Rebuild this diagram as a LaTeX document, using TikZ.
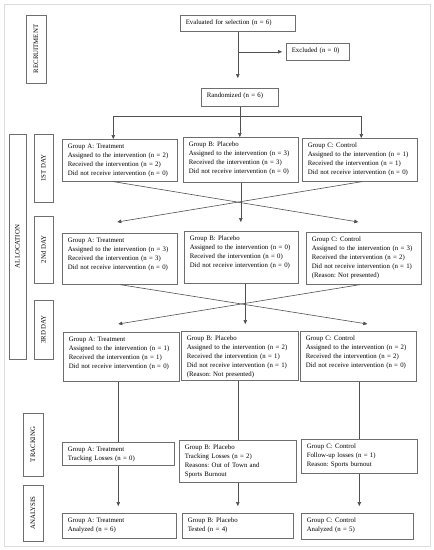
\documentclass[tikz,border=0pt]{standalone}
\usepackage{fontspec}
\setmainfont{Liberation Serif}
\usetikzlibrary{arrows.meta,calc}
\definecolor{boxgray}{HTML}{6E6E6E}
\definecolor{linegray}{HTML}{505050}
\definecolor{framegray}{HTML}{DCDCDC}
\frenchspacing
\begin{document}
\begin{tikzpicture}[x=1pt,y=-1pt,
  every node/.style={font=\fontsize{6.8}{8.9}\selectfont\frenchspacing, text=black},
  gbox/.style={draw=boxgray, line width=0.6pt, text width=#1, align=left,
    inner xsep=5.5pt, inner ysep=4pt, text height=5.5pt, anchor=north west},
  lbox/.style={draw=boxgray, line width=0.6pt, rotate=90, inner sep=0pt},
  conn/.style={draw=linegray, line width=0.6pt},
  arr/.style={conn, -{Triangle[length=4pt,width=3.6pt]}}]
\useasboundingbox (0,0) rectangle (434,550);
\draw[framegray, line width=0.8pt] (4,4) rectangle (430,546);

% side labels
\node[lbox, minimum width=68pt, minimum height=20pt] (recruit) at (36,49) {RECRUITMENT};
\node[lbox, minimum width=225pt, minimum height=17pt] (alloc) at (17.5,246.5) {ALLOCATION};
\node[lbox, minimum width=68pt, minimum height=19pt] (dayone) at (43.5,168) {1ST DAY};
\node[lbox, minimum width=67pt, minimum height=19pt] (daytwo) at (43.5,249.5) {2Nd DAY};
\node[lbox, minimum width=59pt, minimum height=19pt] (daythree) at (43.5,329.5) {3RD DAY};
\node[lbox, minimum width=63pt, minimum height=20pt] (track) at (33,444.5) {TRACKING};
\node[lbox, minimum width=56pt, minimum height=20pt] (anal) at (33,513) {ANALYSIS};

% recruitment
\node[gbox=104pt, text depth=2.5pt] (eval) at (180,15) {Evaluated for selection (n = 6)};
\node[gbox=52pt, text depth=3.5pt] (excl) at (286,43) {Excluded (n = 0)};
\node[gbox=66pt, text depth=4.5pt] (rand) at (201,88) {Randomized (n = 6)};

% day 1
\node[gbox=104pt, text depth=28.5pt] (d1A) at (62,139) {Group A: Treatment\\Assigned to the intervention (n = 2)\\Received the intervention (n = 2)\\Did not receive intervention (n = 0)};
\node[gbox=104pt, text depth=31.5pt] (d1B) at (183,137) {Group B: Placebo\\Assigned to the intervention (n = 3)\\Received the intervention (n = 3)\\Did not receive intervention (n = 0)};
\node[gbox=104pt, text depth=29.5pt] (d1C) at (302,138) {Group C: Control\\Assigned to the intervention (n = 1)\\Received the intervention (n = 1)\\Did not receive intervention (n = 0)};

% day 2
\node[gbox=104pt, text depth=37.5pt] (d2A) at (62,233) {Group A: Treatment\\Assigned to the intervention (n = 3)\\Received the intervention (n = 3)\\Did not receive intervention (n = 0)};
\node[gbox=103pt, text depth=38.5pt] (d2B) at (184,231) {Group B: Placebo\\Assigned to the intervention (n = 0)\\Received the intervention (n = 0)\\Did not receive intervention (n = 0)};
\node[gbox=104pt, text depth=38.5pt] (d2C) at (306,232) {Group C: Control\\Assigned to the intervention (n = 3)\\Received the intervention (n = 2)\\Did not receive intervention (n = 1)\\(Reason: Not presented)};

% day 3
\node[gbox=105pt, text depth=35.5pt] (d3A) at (63,332) {Group A: Treatment\\Assigned to the intervention (n = 1)\\Received the intervention (n = 1)\\Did not receive intervention (n = 0)};
\node[gbox=106pt, text depth=35.5pt] (d3B) at (181,331) {Group B: Placebo\\Assigned to the intervention (n = 2)\\Received the intervention (n = 1)\\Did not receive intervention (n = 1)\\(Reason: Not presented)};
\node[gbox=105pt, text depth=36.5pt] (d3C) at (300,331) {Group C: Control\\Assigned to the intervention (n = 2)\\Received the intervention (n = 2)\\Did not receive intervention (n = 0)};

% tracking
\node[gbox=101pt, text depth=9.5pt] (trA) at (62,442) {Group A: Treatment\\Tracking Losses (n = 0)};
\node[gbox=106pt, text depth=28.5pt] (trB) at (179,440) {Group B: Placebo\\Tracking Losses (n = 2)\\Reasons: Out of Town and\\Sports Burnout};
\node[gbox=105pt, text depth=20.5pt] (trC) at (301,439) {Group C: Control\\Follow-up losses (n = 1)\\Reason: Sports burnout};

% analysis
\node[gbox=103pt, text depth=11.5pt] (anA) at (62,513) {Group A: Treatment\\Analyzed (n = 6)};
\node[gbox=100pt, text depth=11.5pt] (anB) at (182,513) {Group B: Placebo\\Tested (n = 4)};
\node[gbox=101pt, text depth=12.5pt] (anC) at (301,513) {Group C: Control\\Analyzed (n = 5)};

% recruitment connectors
\draw[arr, shorten >=10pt] (eval.south) -- (eval.south |- rand.north);
\draw[arr, shorten >=4pt] (eval.south |- excl.west) -- (excl.west);

% randomization split
\coordinate (split) at ([yshift=-10pt]rand.south);
\draw[conn] (rand.south) -- (split);
\draw[arr] (split) -| ([xshift=-6.5pt]d1A.north);
\draw[arr] (rand.south) -- (rand.south |- d1B.north);
\draw[arr] (split) -| ([xshift=1.5pt]d1C.north);

% day1 -> day2
\draw[arr] ([xshift=-6.5pt]d1A.south) -- ([xshift=-5.5pt,yshift=10pt]d2C.north);
\draw[arr] ([xshift=2.5pt]d1C.south) -- ([xshift=-2.5pt,yshift=11pt]d2A.north);
\draw[arr] (d1B.south) -- ([yshift=9pt]d1B.south |- d2B.north);

% day2 -> day3
\draw[arr] (d2A.south) -- ([xshift=9pt,yshift=7pt]d3C.north);
\draw[arr] ([xshift=-3.5pt]d2C.south) -- ([xshift=-3pt,yshift=8pt]d3A.north);
\draw[arr] ([xshift=4pt]d2B.south) -- ([xshift=4pt,yshift=7pt]d2B.south |- d3B.north);

% day3 -> tracking
\draw[conn] (trA.north |- d3A.south) -- (trA.north);
\draw[conn] (trB.north |- d3B.south) -- (trB.north);
\draw[conn] (trC.north |- d3C.south) -- (trC.north);

% tracking -> analysis
\draw[arr] (trA.south) -- ([yshift=7pt]trA.south |- anA.north);
\draw[arr] (trB.south) -- ([yshift=7pt]trB.south |- anB.north);
\draw[arr] (trC.south) -- ([yshift=7pt]trC.south |- anC.north);
\end{tikzpicture}
\end{document}
